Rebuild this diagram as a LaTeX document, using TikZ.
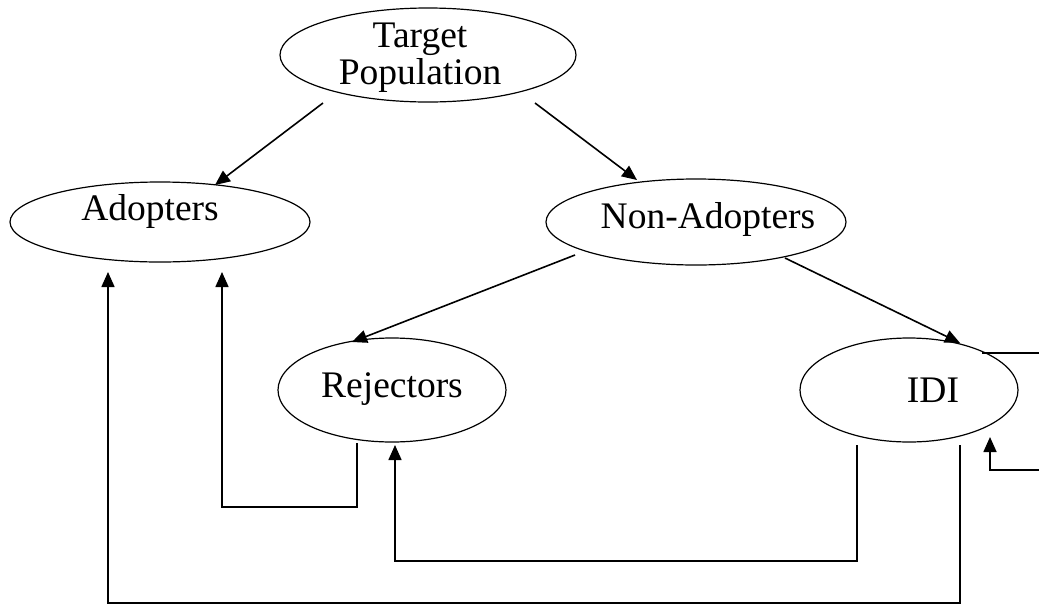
\documentclass[tikz,border=0pt]{standalone}
\usepackage{fontspec}
\setmainfont{Liberation Serif}
\usetikzlibrary{shapes.geometric,arrows.meta,calc}
\begin{document}
\begin{tikzpicture}[x=1pt,y=-1pt,
  oval/.style={draw,ellipse,line width=1.2pt,inner sep=0pt},
  caption/.style={inner sep=0pt,align=center,font=\fontsize{37.5}{37}\selectfont},
  link/.style={line width=1.6pt,-{Triangle[length=15pt,width=13pt]}}]
\clip (0,0) rectangle (1039,606);
\useasboundingbox (0,0) rectangle (1039,606);

% population groups
\node[oval,minimum width=296pt,minimum height=94pt] (tp) at (428,55) {};
\node[oval,minimum width=300pt,minimum height=80pt] (ad) at (160,222) {};
\node[oval,minimum width=300pt,minimum height=86pt] (na) at (696,222) {};
\node[oval,minimum width=228pt,minimum height=104pt] (rj) at (392,390) {};
\node[oval,minimum width=218pt,minimum height=104pt] (idi) at (909,390) {};

% their names
\node[caption] (tptext) at ($(tp.center)+(-8,3)$) {Target\\Population};
\node[caption,anchor=base] (adtext) at ($(ad.center)+(-10,-2)$) {Adopters};
\node[caption,anchor=base] (natext) at ($(na.center)+(12,6)$) {Non-Adopters};
\node[caption,anchor=base] (rjtext) at ($(rj.center)+(0,7)$) {Rejectors};
\node[caption,anchor=base] (iditext) at ($(idi.center)+(24,12)$) {IDI};

% splits of the population
\draw[link] ($(tp.center)+(-105,48)$) -- ($(ad.center)+(55,-37)$);
\draw[link] ($(tp.center)+(107,48)$) -- ($(na.center)+(-59,-42)$);
\draw[link] ($(na.center)+(-121,33)$) -- ($(rj.center)+(-40,-48)$);
\draw[link] ($(na.center)+(89,36)$) -- ($(idi.center)+(51,-47)$);

% feedback paths
\draw[link] ($(rj.center)+(-35,53)$) |- (222,507) -- ($(ad.center)+(62,50)$);
\draw[link] ($(idi.center)+(-52,55)$) |- (395,561) -- ($(rj.center)+(3,55)$);
\draw[link] ($(idi.center)+(51,55)$) |- (108,603) -- ($(ad.center)+(-52,50)$);
\draw[link] ($(idi.center)+(73,-37)$) -- (1060,353) -- (1060,470) -| ($(idi.center)+(81,47)$);
\end{tikzpicture}
\end{document}
